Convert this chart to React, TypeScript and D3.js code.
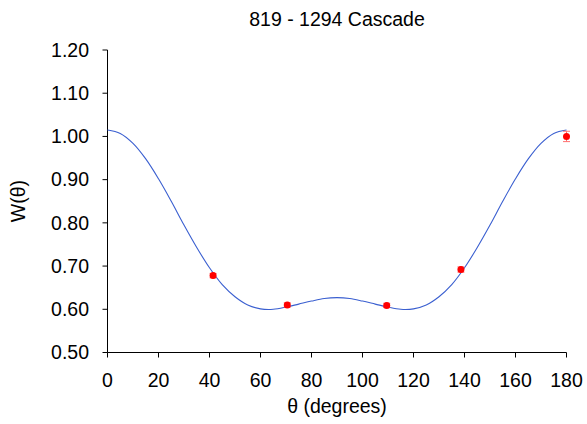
import React from "react";
import * as d3 from "d3";

const title = "819 - 1294 Cascade";
const xTicks = [0, 20, 40, 60, 80, 100, 120, 140, 160, 180];
const yTicks = [0.5, 0.6, 0.7, 0.8, 0.9, 1.0, 1.1, 1.2];

// measured data points
const angles = [41.4, 70.5, 109.5, 138.6, 180];
const values = [0.678, 0.61, 0.609, 0.692, 1.0];
const errors = [0.005, 0.005, 0.005, 0.006, 0.012];

// fitted curve, every 5 degrees
const curveAngles = [
  0, 5, 10, 15, 20, 25, 30, 35, 40, 45, 50, 55, 60, 65, 70, 75, 80, 85, 90,
  95, 100, 105, 110, 115, 120, 125, 130, 135, 140, 145, 150, 155, 160, 165, 170, 175, 180,
];
const curveValues = [
  1.015, 1.007, 0.984, 0.948, 0.902, 0.85, 0.795, 0.743, 0.696, 0.657, 0.629, 0.61, 0.601, 0.6, 0.605, 0.612, 0.619, 0.625, 0.627,
  0.625, 0.619, 0.612, 0.605, 0.6, 0.601, 0.61, 0.629, 0.657, 0.696, 0.743, 0.795, 0.85, 0.902, 0.948, 0.984, 1.007, 1.015,
];

const W = 587;
const H = 424;
const left = 107.5;
const right = 566.5;
const top = 50;
const bottom = 352.5;
const FONT = "'Liberation Sans', Arial, Helvetica, sans-serif";

export default function App() {
  const x = d3.scaleLinear().domain([0, 180]).range([left, right]);
  const y = d3.scaleLinear().domain([0.5, 1.2]).range([bottom, top]);
  const line = d3
    .line<number>()
    .x((_, i) => x(curveAngles[i]))
    .y((v) => y(v))
    .curve(d3.curveCatmullRom.alpha(0.5));
  const path = line(curveValues) || "";

  return (
    <svg
      width={W}
      height={H}
      style={{ position: "absolute", left: 0, top: 0, background: "#fff" }}
      fontFamily={FONT}
    >
      <rect x={0} y={0} width={W} height={H} fill="#fff" />
      <text x={337} y={26} textAnchor="middle" fontSize={19.5} fill="#000">
        {title}
      </text>
      {/* y axis */}
      <line x1={left} x2={left} y1={top} y2={bottom} stroke="#000" strokeWidth={1} />
      {yTicks.map((t) => (
        <g key={t}>
          <line x1={left - 5} x2={left} y1={y(t)} y2={y(t)} stroke="#000" />
          <text
            x={89}
            y={y(t)}
            dy="0.35em"
            textAnchor="end"
            fontSize={19.5}
            fill="#000"
          >
            {t.toFixed(2)}
          </text>
        </g>
      ))}
      {/* x axis */}
      <line x1={left} x2={right} y1={bottom} y2={bottom} stroke="#000" strokeWidth={1} />
      {xTicks.map((t) => (
        <g key={t}>
          <line x1={x(t)} x2={x(t)} y1={bottom} y2={bottom + 5} stroke="#000" />
          <text x={x(t)} y={387} textAnchor="middle" fontSize={19.5} fill="#000">
            {t}
          </text>
        </g>
      ))}
      <text x={337} y={413} textAnchor="middle" fontSize={19.5} fill="#000">
        θ (degrees)
      </text>
      <text
        transform={`translate(25,201) rotate(-90)`}
        textAnchor="middle"
        fontSize={19.5}
        fill="#000"
      >
        W(θ)
      </text>
      {/* curve */}
      <path d={path} fill="none" stroke="#3a5fd0" strokeWidth={1.1} />
      {/* points with error bars */}
      {angles.map((a, i) => {
        const cx = x(a);
        const lo = y(values[i] - errors[i]);
        const hi = y(values[i] + errors[i]);
        return (
          <g key={a}>
            <line x1={cx} x2={cx} y1={lo} y2={hi} stroke="#ff7070" strokeWidth={1} />
            <line x1={cx - 3.5} x2={cx + 3.5} y1={lo} y2={lo} stroke="#ff7070" strokeWidth={1} />
            <line x1={cx - 3.5} x2={cx + 3.5} y1={hi} y2={hi} stroke="#ff7070" strokeWidth={1} />
            <circle cx={cx} cy={y(values[i])} r={3.5} fill="#ff0000" />
          </g>
        );
      })}
    </svg>
  );
}
